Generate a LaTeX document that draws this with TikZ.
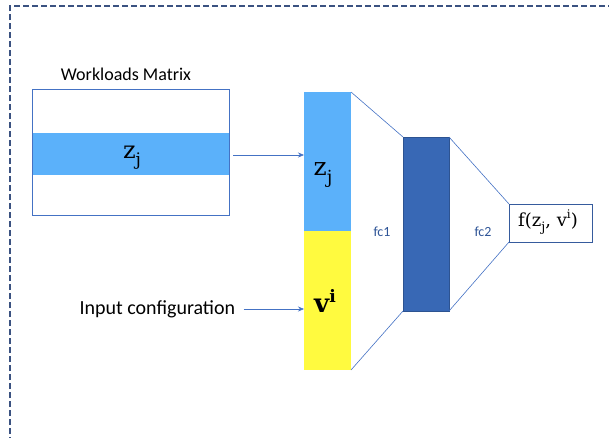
\documentclass[tikz,border=0pt]{standalone}
\usepackage{fontspec}
\setsansfont{Carlito}
\newfontfamily\symserif{DejaVu Serif}
\usetikzlibrary{arrows.meta}
\definecolor{lightblue}{HTML}{5BB1FA}
\definecolor{layeryellow}{HTML}{FFFA3F}
\definecolor{darkblue}{HTML}{3868B5}
\definecolor{linkblue}{HTML}{4472C4}
\definecolor{framegray}{HTML}{3B5281}
\definecolor{labelblue}{HTML}{2F5597}
\newcommand{\subj}{\raisebox{-0.3em}{\scalebox{0.72}{j}}}
\newcommand{\supi}{\raisebox{0.42em}{\scalebox{0.66}{i}}}
\tikzset{
  link/.style={draw=linkblue, line width=0.6pt},
  feed/.style={link, -{Stealth[length=6pt,width=5pt]}},
  layerlabel/.style={font=\sffamily\fontsize{14}{16}\selectfont, text=labelblue},
  mathlabel/.style={font=\symserif\fontsize{#1}{#1}\selectfont},
}
\begin{document}
\begin{tikzpicture}[x=1pt, y=-1pt]
  \useasboundingbox (0,0) rectangle (609,437);
  % dashed outer frame (only the top and left edges fall inside the page)
  \draw[framegray, line width=1.2pt, dash pattern=on 6pt off 3pt]
    (10,470) -- (10,6) -- (640,6);

  % workloads matrix with the highlighted row
  \node[font=\sffamily\fontsize{18}{20}\selectfont] (wmlabel) at (126,74) {Workloads Matrix};
  \node[draw=linkblue, line width=0.8pt, minimum width=197pt, minimum height=126pt,
        inner sep=0pt, outer sep=0pt] (matrix) at (130.5,152) {};
  \node[fill=lightblue, minimum width=196pt, minimum height=42pt, inner sep=0pt,
        outer sep=0pt] (row) at (130.5,154) {};
  \node[mathlabel=24] (rowlabel) at (132,158) {z\subj};

  % input vector: workload part and configuration part
  \node[fill=lightblue, minimum width=47pt, minimum height=139pt, inner sep=0pt,
        outer sep=0pt] (zpart) at (327.5,161.5) {};
  \node[mathlabel=25] (zlabel) at (323,175) {z\subj};
  \node[fill=layeryellow, minimum width=47pt, minimum height=139pt, inner sep=0pt,
        outer sep=0pt] (vpart) at (327.5,300.5) {};
  \node[font=\symserif\bfseries\fontsize{26}{26}\selectfont]
    (vlabel) at (325,301) {v\supi};

  % hidden layer
  \node[fill=darkblue, draw=darkblue!80!black, line width=0.5pt, minimum width=46pt,
        minimum height=174pt, inner sep=0pt, outer sep=0pt] (hidden) at (426,224) {};

  % output
  \node[draw=linkblue!80!black, line width=0.8pt, fill=white, minimum width=83pt,
        minimum height=38pt, inner sep=0pt, outer sep=0pt, mathlabel=18]
        (out) at (550.5,223) {};
  \node[mathlabel=18] (outlabel) at (548,222) {f(z\subj, v\supi)};

  % fully connected links
  \draw[link] (zpart.north east) -- (hidden.north west);
  \draw[link] (vpart.south east) -- (hidden.south west);
  \draw[link] (hidden.north east) -- (out.north west);
  \draw[link] (hidden.south east) -- (out.south west);
  \node[layerlabel] (fc1) at (382,232) {fc1};
  \node[layerlabel] (fc2) at (483,232) {fc2};

  % feeding arrows
  \coordinate (rowend) at (233,155);
  \draw[feed] (rowend) -- (zpart.west |- rowend);
  \node[font=\sffamily\fontsize{20}{22}\selectfont, anchor=west] (inlabel)
    at (76,309) {Input configuration};
  \coordinate (instart) at ([xshift=5pt]inlabel.east);
  \draw[feed] (instart) -- (vpart.west |- instart);
\end{tikzpicture}
\end{document}
